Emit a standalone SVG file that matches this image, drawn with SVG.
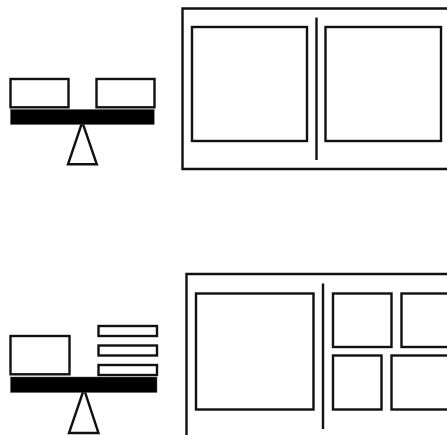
<svg xmlns="http://www.w3.org/2000/svg" width="447" height="435" viewBox="0 0 447 435">
<style>
.o{fill:#fff;stroke:#111;stroke-width:2.4}
.b{fill:#000;stroke:#555;stroke-width:.5}
.l{fill:none;stroke:#111;stroke-width:2.4}
</style>
<rect width="447" height="435" fill="#fff"/>
<g id="balance-top">
<rect class="o" x="10.500" y="79" width="58" height="28.300"/>
<rect class="o" x="96.500" y="79" width="58" height="28.300"/>
<polygon class="o" points="82.300,122 68,164.300 96.800,164.300"/>
<rect class="b" x="10.500" y="109.500" width="143.700" height="15"/>
</g>
<g id="panel-top">
<path class="l" d="M448 8.500H182.500V169H448"/>
<rect class="o" x="192" y="27" width="115" height="114"/>
<rect class="o" x="325.500" y="27" width="115.500" height="114"/>
<path class="l" d="M316.500 17.500V160"/>
</g>
<g id="balance-bottom">
<rect class="o" x="10.500" y="336" width="59" height="38.300"/>
<rect class="o" x="98.500" y="326" width="58.500" height="10"/>
<rect class="o" x="98.500" y="345.500" width="58.500" height="10"/>
<rect class="o" x="98.500" y="365" width="58.500" height="10"/>
<polygon class="o" points="84,389 69,433 98.500,433"/>
<rect class="b" x="10.500" y="377" width="146.500" height="15.500"/>
</g>
<g id="panel-bottom">
<path class="l" d="M448 274H186.500V436"/>
<rect class="o" x="196" y="293.500" width="117.500" height="116"/>
<path class="l" d="M323 283.500V429"/>
<rect class="o" x="333" y="293.500" width="58.500" height="53.500"/>
<rect class="o" x="401.500" y="293.500" width="50" height="53.500"/>
<rect class="o" x="333" y="355.500" width="48.500" height="54"/>
<rect class="o" x="391.500" y="355.500" width="60" height="54"/>
</g>
</svg>
